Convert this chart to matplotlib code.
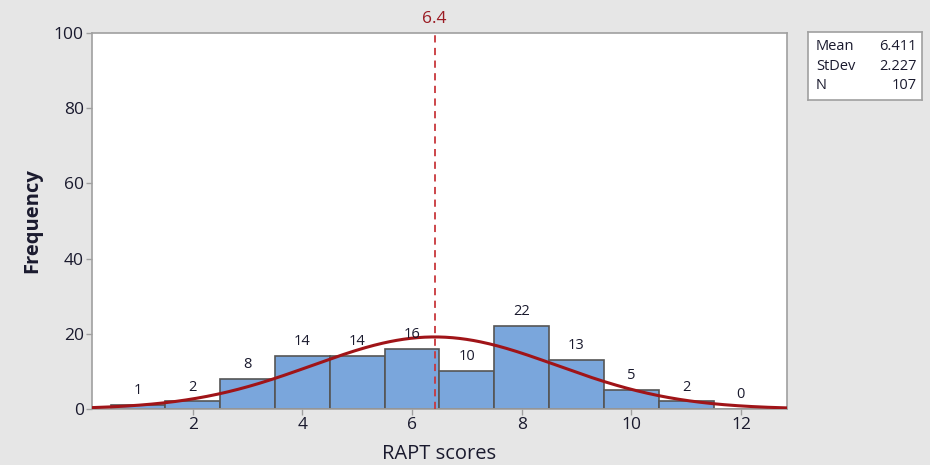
import numpy as np
import matplotlib
matplotlib.use("Agg")
import matplotlib.pyplot as plt

# Histogram of RAPT scores with fitted normal curve
bin_centers = [1, 2, 3, 4, 5, 6, 7, 8, 9, 10, 11, 12]
counts = [1, 2, 8, 14, 14, 16, 10, 22, 13, 5, 2, 0]
mean = 6.411
stdev = 2.227
n_obs = 107
x_ticks = [2, 4, 6, 8, 10, 12]
y_ticks = [0, 20, 40, 60, 80, 100]

bg = "#e6e6e6"
bar_face = "#7aa6dc"
bar_edge = "#555555"
curve_col = "#a01418"
ref_col = "#c8373c"
spine_col = "#a0a0a0"
text_col = "#1a1a2e"

plt.rcParams["font.family"] = ["Open Sans", "DejaVu Sans"]

fig = plt.figure(figsize=(9.3, 4.65), dpi=100, facecolor=bg)
ax = fig.add_axes([0.0989, 0.1204, 0.7473, 0.8086])
ax.set_facecolor("white")

ax.bar(bin_centers, counts, width=1.0, color=bar_face, edgecolor=bar_edge,
       linewidth=1.2, zorder=2)

for xc, c in zip(bin_centers, counts):
    ax.annotate(str(c), (xc, c), xytext=(0, 5), textcoords="offset points",
                ha="center", va="bottom", fontsize=10.5, color=text_col, zorder=4)

# normal curve scaled to the counts (bin width 1)
xs = np.linspace(0.16, 12.84, 400)
ys = n_obs * 1.0 / (stdev * np.sqrt(2 * np.pi)) * np.exp(-0.5 * ((xs - mean) / stdev) ** 2)
ax.plot(xs, ys, color=curve_col, linewidth=2.2, zorder=3)

# mean reference line
ax.axvline(mean, color=ref_col, linestyle=(0, (4, 3)), linewidth=1.3, zorder=3)
ax.text(mean, 101.5, f"{mean:.1f}", ha="center", va="bottom", fontsize=12.5,
        color="#9a1a22", clip_on=False)

ax.set_xlim(0.16, 12.84)
ax.set_ylim(0, 100)
ax.set_xticks(x_ticks)
ax.set_yticks(y_ticks)
ax.tick_params(axis="both", colors=spine_col, labelcolor=text_col, labelsize=12.5,
               length=4, width=1, direction="out", pad=2)
for s in ax.spines.values():
    s.set_color(spine_col)
    s.set_linewidth(1.2)

ax.set_xlabel("RAPT scores", fontsize=14.5, color=text_col, labelpad=8)
ax.set_ylabel("Frequency", fontsize=14.5, color=text_col, fontweight="bold", labelpad=8)

# summary statistics box
box_ax = fig.add_axes([808 / 930, 1 - 100 / 465, 114 / 930, 68 / 465])
box_ax.set_facecolor("white")
box_ax.set_xticks([])
box_ax.set_yticks([])
for s in box_ax.spines.values():
    s.set_color(spine_col)
    s.set_linewidth(1.2)
rows = [("Mean", f"{mean:.3f}"), ("StDev", f"{stdev:.3f}"), ("N", f"{n_obs}")]
for i, (lab, val) in enumerate(rows):
    yy = 0.78 - i * 0.28
    box_ax.text(0.07, yy, lab, ha="left", va="center", fontsize=10.5, color=text_col,
                transform=box_ax.transAxes)
    box_ax.text(0.95, yy, val, ha="right", va="center", fontsize=10.5, color=text_col,
                transform=box_ax.transAxes)

fig.savefig("out.png", dpi=100, facecolor=bg)
